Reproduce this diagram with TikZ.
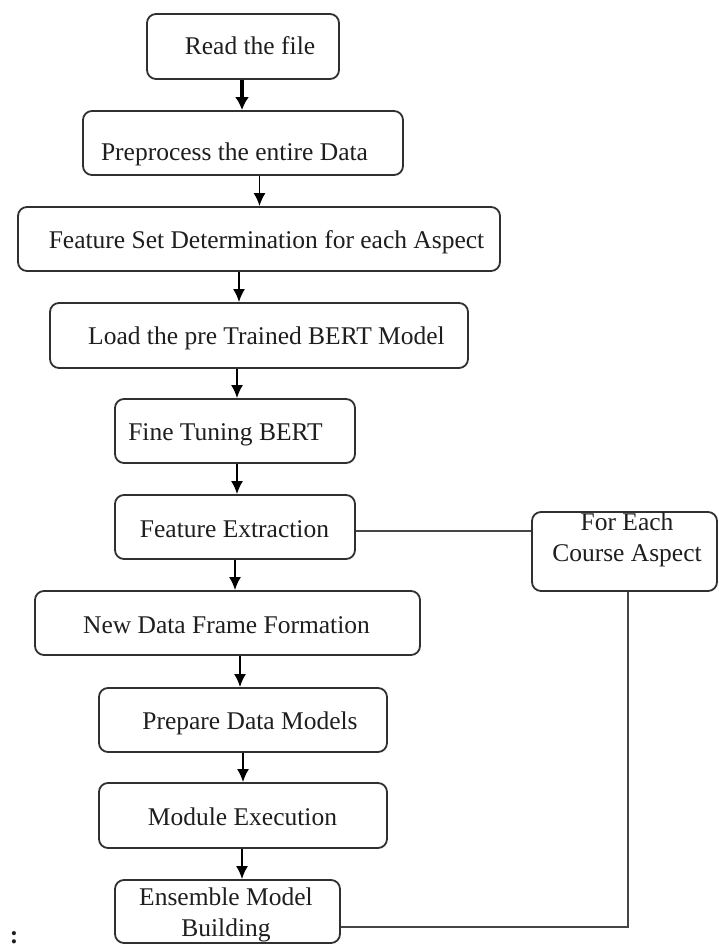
\documentclass[tikz,border=0pt]{standalone}
\usepackage{fontspec}
\setmainfont{Liberation Serif}
\usetikzlibrary{arrows.meta}
\definecolor{boxline}{HTML}{303030}
\definecolor{txtcol}{HTML}{1E1E1E}
\definecolor{linkcol}{HTML}{454545}
\tikzset{
  boxnode/.style={draw=boxline, line width=1.8pt, rounded corners=9pt, inner sep=0pt, fill=white},
  txt/.style={anchor=base, inner sep=0pt, text=txtcol, font=\fontsize{25.5}{31}\selectfont, align=center},
  arr/.style={draw=black, line width=1.8pt, -{Latex[length=13pt,width=12pt]}},
  boldarr/.style={draw=black, line width=3.2pt, -{Latex[length=13pt,width=14pt]}},
  link/.style={draw=linkcol, line width=1.8pt}
}
\begin{document}
\begin{tikzpicture}[x=1pt,y=-1pt]
\useasboundingbox[fill=white] (0,0) rectangle (719,947);
% boxes
\node[boxnode, minimum width=192pt, minimum height=65pt] (read)   at (243,46.5) {};
\node[boxnode, minimum width=320pt, minimum height=64pt] (prep)   at (243,143) {};
\node[boxnode, minimum width=482pt, minimum height=64pt] (feat)   at (259,239) {};
\node[boxnode, minimum width=418pt, minimum height=65pt] (load)   at (259,335.5) {};
\node[boxnode, minimum width=240pt, minimum height=64pt] (fine)   at (235,431) {};
\node[boxnode, minimum width=240pt, minimum height=64pt] (fext)   at (235,527) {};
\node[boxnode, minimum width=385pt, minimum height=64pt] (newdf)  at (227.5,623) {};
\node[boxnode, minimum width=288pt, minimum height=64pt] (prepdm) at (243,720) {};
\node[boxnode, minimum width=288pt, minimum height=65pt] (module) at (243,815.5) {};
\node[boxnode, minimum width=225pt, minimum height=63pt] (ens)    at (227.5,911.5) {};
\node[boxnode, minimum width=185pt, minimum height=79pt] (foreach) at (624.5,551.5) {};
% texts
\node[txt] (tread)   at (250,55)    {Read the file};
\node[txt] (tprep)   at (234.5,160) {Preprocess the entire Data};
\node[txt] (tfeat)   at (266.5,248) {Feature Set Determination for each Aspect};
\node[txt] (tload)   at (266.5,344) {Load the pre Trained BERT Model};
\node[txt] (tfine)   at (225.5,440) {Fine Tuning BERT};
\node[txt] (tfext)   at (234.5,537) {Feature Extraction};
\node[txt] (tnewdf)  at (226.5,633) {New Data Frame Formation};
\node[txt] (tprepdm) at (250,729)   {Prepare Data Models};
\node[txt] (tmodule) at (242.5,825) {Module Execution};
\node[txt] (tens1)   at (226,905)   {Ensemble Model};
\node[txt] (tens2)   at (226,936)   {Building};
\node[txt] (tfe1)    at (627,530)   {For Each};
\node[txt] (tfe2)    at (627,561)   {Course Aspect};
\node[txt, font=\fontsize{25.5}{31}\selectfont\bfseries] (colon) at (14,943) {:};
% arrows
\draw[boldarr] ([xshift=-1pt]read.south) -- ([xshift=-1pt]read.south |- prep.north);
\draw[arr] ([xshift=16.5pt]prep.south) -- ([xshift=16.5pt]prep.south |- feat.north);
\draw[arr] ([xshift=-20pt]feat.south) -- ([xshift=-20pt]feat.south |- load.north);
\draw[arr] ([xshift=-22pt]load.south) -- ([xshift=-22pt]load.south |- fine.north);
\draw[arr] ([xshift=2pt]fine.south) -- ([xshift=2pt]fine.south |- fext.north);
\draw[arr] (fext.south) -- (fext.south |- newdf.north);
\draw[arr] ([xshift=12.5pt]newdf.south) -- ([xshift=12.5pt]newdf.south |- prepdm.north);
\draw[arr] (prepdm.south) -- (module.north);
\draw[arr] ([xshift=-1pt]module.south) -- ([xshift=-1pt]module.south |- ens.north);
% side links
\draw[link] ([yshift=-4pt]fext.east) -- ([yshift=-4pt]fext.east -| foreach.west);
\draw[link] ([yshift=-15.5pt]ens.east) -| ([xshift=3.5pt]foreach.south);
\end{tikzpicture}
\end{document}
